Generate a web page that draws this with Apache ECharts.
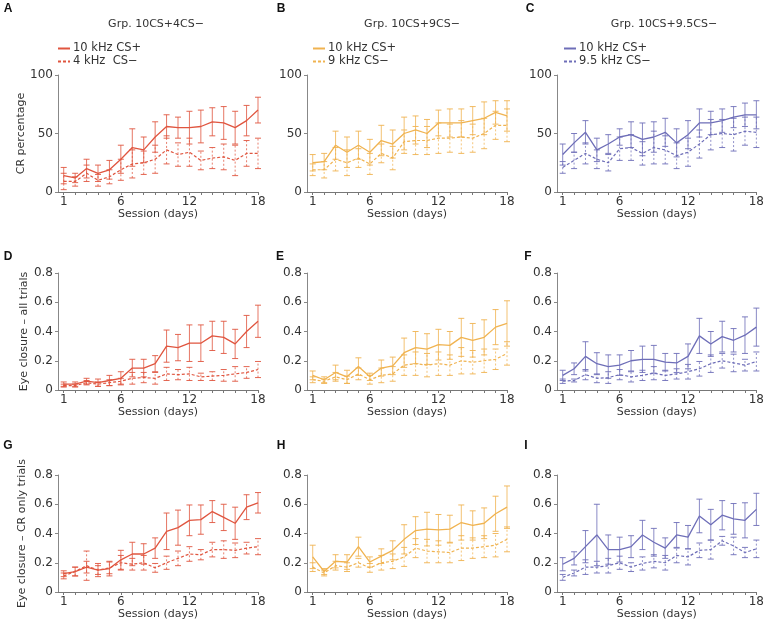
<!DOCTYPE html>
<html>
<head>
<meta charset="utf-8">
<script src="https://cdn.jsdelivr.net/npm/echarts@6/dist/echarts.min.js"></script>
<style>html,body{margin:0;padding:0;background:#fff}#c{width:767px;height:624px}</style>
</head>
<body>
<div id="c"></div>
<script>
const sessions = [1,2,3,4,5,6,7,8,9,10,11,12,13,14,15,16,17,18];
const sessionLabels = [1,6,12,18];

const A_plus = [14,12,20,16,19,28,38,36,47,56,55,55,56,60,59,55,61,70];
const A_plusErr = [7,4,8,7,8,12,16,11,13,10,9,14,14,12,14,14,13,11];
const A_minus = [9,9,16,10,13,19,24,25,28,36,32,34,27,29,30,27,33,33];
const A_minusErr = [7,4,7,5,6,9,12,10,12,12,10,12,8,9,11,13,11,13];

const B_plus = [25,26,40,34,40,34,44,41,50,53,50,59,59,59,61,63,68,65];
const B_plusErr = [7,7,12,13,12,11,13,12,14,12,12,11,12,12,12,14,10,13];
const B_minus = [19,19,28,25,29,24,33,29,43,44,44,46,46,47,46,50,57,57];
const B_minusErr = [5,7,10,11,8,9,8,10,10,12,12,13,12,14,12,13,12,14];

const C_plus = [32,42,51,36,41,47,49,45,47,51,42,49,59,59,61,64,66,66];
const C_plusErr = [9,8,10,10,8,7,11,14,13,12,12,12,12,10,10,9,10,12];
const C_minus = [21,27,33,28,25,37,38,33,38,36,31,34,41,49,50,49,52,51];
const C_minusErr = [5,7,9,8,7,10,11,10,14,12,11,12,12,13,12,14,12,13];

const D_plus = [0.04,0.04,0.06,0.05,0.065,0.08,0.15,0.15,0.18,0.30,0.29,0.32,0.32,0.37,0.36,0.315,0.40,0.47];
const D_plusErr = [0.015,0.015,0.02,0.025,0.035,0.045,0.06,0.06,0.055,0.11,0.09,0.125,0.125,0.10,0.11,0.10,0.11,0.11];
const D_minus = [0.03,0.03,0.05,0.04,0.05,0.06,0.08,0.085,0.08,0.11,0.105,0.11,0.09,0.095,0.10,0.11,0.12,0.14];
const D_minusErr = [0.01,0.01,0.015,0.015,0.02,0.02,0.04,0.035,0.04,0.045,0.035,0.045,0.025,0.03,0.04,0.05,0.04,0.055];

const E_plus = [0.10,0.07,0.12,0.09,0.16,0.09,0.15,0.165,0.255,0.29,0.28,0.31,0.305,0.36,0.34,0.36,0.43,0.455];
const E_plusErr = [0.03,0.02,0.05,0.045,0.06,0.025,0.055,0.06,0.10,0.11,0.105,0.105,0.095,0.13,0.115,0.12,0.12,0.155];
const E_minus = [0.07,0.06,0.09,0.07,0.11,0.07,0.10,0.11,0.17,0.18,0.17,0.18,0.17,0.20,0.19,0.20,0.21,0.25];
const E_minusErr = [0.02,0.015,0.03,0.025,0.04,0.03,0.05,0.05,0.07,0.08,0.08,0.08,0.07,0.09,0.08,0.08,0.07,0.08];

const F_plus = [0.10,0.145,0.23,0.18,0.16,0.17,0.20,0.21,0.21,0.19,0.185,0.23,0.37,0.315,0.365,0.34,0.375,0.43];
const F_plusErr = [0.035,0.04,0.10,0.075,0.08,0.07,0.07,0.09,0.095,0.06,0.065,0.085,0.12,0.085,0.105,0.08,0.125,0.13];
const F_minus = [0.06,0.065,0.105,0.08,0.085,0.105,0.09,0.10,0.115,0.10,0.11,0.125,0.145,0.18,0.20,0.185,0.17,0.195];
const F_minusErr = [0.015,0.01,0.035,0.03,0.04,0.035,0.035,0.035,0.045,0.035,0.035,0.05,0.05,0.06,0.05,0.06,0.04,0.065];

const G_plus = [0.125,0.14,0.17,0.15,0.16,0.22,0.26,0.26,0.30,0.415,0.44,0.49,0.495,0.55,0.51,0.47,0.58,0.61];
const G_plusErr = [0.02,0.03,0.04,0.045,0.05,0.065,0.08,0.07,0.07,0.125,0.12,0.105,0.10,0.075,0.09,0.11,0.085,0.07];
const G_minus = [0.11,0.14,0.18,0.15,0.165,0.20,0.19,0.20,0.165,0.20,0.23,0.26,0.255,0.29,0.29,0.285,0.30,0.31];
const G_minusErr = [0.02,0.03,0.10,0.03,0.04,0.05,0.04,0.05,0.03,0.045,0.05,0.05,0.035,0.05,0.06,0.05,0.04,0.055];

const H_plus = [0.24,0.14,0.21,0.205,0.31,0.205,0.245,0.285,0.36,0.42,0.43,0.425,0.43,0.475,0.455,0.47,0.535,0.58];
const H_plusErr = [0.08,0.02,0.045,0.05,0.065,0.035,0.05,0.065,0.10,0.095,0.115,0.105,0.095,0.12,0.10,0.105,0.12,0.145];
const H_minus = [0.17,0.13,0.18,0.17,0.20,0.165,0.20,0.21,0.24,0.30,0.28,0.275,0.27,0.30,0.30,0.31,0.32,0.36];
const H_minusErr = [0.03,0.02,0.03,0.03,0.03,0.03,0.05,0.05,0.065,0.065,0.08,0.075,0.07,0.085,0.07,0.075,0.08,0.085];

const I_plus = [0.19,0.23,0.31,0.39,0.29,0.29,0.31,0.39,0.34,0.30,0.39,0.375,0.52,0.46,0.525,0.50,0.49,0.565];
const I_plusErr = [0.045,0.045,0.11,0.21,0.10,0.085,0.075,0.10,0.095,0.07,0.085,0.08,0.115,0.105,0.10,0.105,0.12,0.11];
const I_minus = [0.10,0.13,0.17,0.17,0.18,0.20,0.17,0.195,0.21,0.20,0.25,0.24,0.285,0.29,0.35,0.315,0.27,0.295];
const I_minusErr = [0.02,0.02,0.05,0.04,0.05,0.045,0.03,0.045,0.045,0.05,0.05,0.055,0.05,0.065,0.03,0.06,0.035,0.06];

const groupTitles = ['Grp. 10CS+4CS\u2212', 'Grp. 10CS+9CS\u2212', 'Grp. 10CS+9.5CS\u2212'];
const plusNames = ['10 kHz CS+', '10 kHz CS+', '10 kHz CS+'];
const minusNames = ['4 kHz  CS\u2212', '9 kHz CS\u2212', '9.5 kHz CS\u2212'];
const rowNames = ['CR percentage', 'Eye closure \u2013 all trials', 'Eye closure \u2013 CR only trials'];
const letters = ['A','B','C','D','E','F','G','H','I'];

const colors = ['#e0553f', '#f0b350', '#6e6eb8'];
const panelData = [
  [A_plus, A_plusErr, A_minus, A_minusErr],
  [B_plus, B_plusErr, B_minus, B_minusErr],
  [C_plus, C_plusErr, C_minus, C_minusErr],
  [D_plus, D_plusErr, D_minus, D_minusErr],
  [E_plus, E_plusErr, E_minus, E_minusErr],
  [F_plus, F_plusErr, F_minus, F_minusErr],
  [G_plus, G_plusErr, G_minus, G_minusErr],
  [H_plus, H_plusErr, H_minus, H_minusErr],
  [I_plus, I_plusErr, I_minus, I_minusErr]
];

const FONT = 'DejaVu Sans';
const colLeft = [58, 307, 557];
const rowTop = [75, 273, 475];
const gridW = 200, gridH = 117;
const yNameGap = [20, 28, 30];
const letterPos = [[8,9],[281,9],[530,9],[8,257],[280,257],[528,257],[8,446],[281,446],[526,446]];
const titlePos = [[156,24],[412,24],[664,24]];
const legendLeft = [57, 312, 563];

function errRenderer(color, dashed) {
  return function (params, api) {
    const x = api.value(0), lo = api.value(1), hi = api.value(2);
    const p1 = api.coord([x, lo]), p2 = api.coord([x, hi]);
    const w = 3;
    const st = {stroke: color, lineWidth: 1, opacity: dashed ? 0.75 : 0.8, lineDash: dashed ? [2, 2] : null};
    const cap = {stroke: color, lineWidth: 1, opacity: 0.9};
    return {type: 'group', children: [
      {type: 'line', shape: {x1: p1[0], y1: p1[1], x2: p2[0], y2: p2[1]}, style: st},
      {type: 'line', shape: {x1: p2[0]-w, y1: p2[1], x2: p2[0]+w, y2: p2[1]}, style: cap},
      {type: 'line', shape: {x1: p1[0]-w, y1: p1[1], x2: p1[0]+w, y2: p1[1]}, style: cap}
    ]};
  };
}

const grid = [], xAxis = [], yAxis = [], series = [], graphic = [], legend = [];
for (let i = 0; i < 9; i++) {
  const r = Math.floor(i / 3), c = i % 3;
  const color = colors[c];
  grid.push({left: colLeft[c], top: rowTop[r], width: gridW, height: gridH});
  xAxis.push({
    gridIndex: i, type: 'value', min: 0.5, max: 18,
    axisLine: {show: true, onZero: false, lineStyle: {color: '#777', width: 1}},
    axisTick: {show: true, customValues: sessions, length: 3, lineStyle: {color: '#777'}},
    axisLabel: {customValues: sessionLabels, margin: 4, fontSize: 12, color: '#333', fontFamily: FONT},
    splitLine: {show: false},
    name: 'Session (days)', nameLocation: 'middle', nameGap: 16,
    nameTextStyle: {fontSize: 11, color: '#333', fontFamily: FONT}
  });
  const ya = {
    gridIndex: i, type: 'value', min: 0, max: r === 0 ? 100 : 0.8, interval: r === 0 ? 50 : 0.2,
    axisLine: {show: true, lineStyle: {color: '#888', width: 1}},
    axisTick: {show: true, length: 3, lineStyle: {color: '#888'}},
    axisLabel: {margin: 5, fontSize: 12, color: '#333', fontFamily: FONT},
    splitLine: {show: false}
  };
  if (c === 0) {
    ya.name = rowNames[r]; ya.nameLocation = 'middle'; ya.nameGap = yNameGap[r];
    ya.nameTextStyle = {fontSize: 11, color: '#333', fontFamily: FONT};
  }
  yAxis.push(ya);
  const [mp, ep, mm, em] = panelData[i];
  const pName = letters[i] + '|' + plusNames[c];
  const mName = letters[i] + '|' + minusNames[c];
  series.push({
    type: 'custom', xAxisIndex: i, yAxisIndex: i, silent: true, z: 1,
    data: sessions.map((s, k) => [s, mm[k] - em[k], mm[k] + em[k]]),
    encode: {x: 0, y: [1, 2]}, renderItem: errRenderer(color, true)
  });
  series.push({
    type: 'custom', xAxisIndex: i, yAxisIndex: i, silent: true, z: 1,
    data: sessions.map((s, k) => [s, mp[k] - ep[k], mp[k] + ep[k]]),
    encode: {x: 0, y: [1, 2]}, renderItem: errRenderer(color, false)
  });
  series.push({
    type: 'line', name: mName, xAxisIndex: i, yAxisIndex: i, z: 2,
    data: sessions.map((s, k) => [s, mm[k]]), symbol: 'none',
    lineStyle: {color: color, width: 1.2, type: [3, 2]}, itemStyle: {color: color}
  });
  series.push({
    type: 'line', name: pName, xAxisIndex: i, yAxisIndex: i, z: 3,
    data: sessions.map((s, k) => [s, mp[k]]), symbol: 'none',
    lineStyle: {color: color, width: 1.3}, itemStyle: {color: color}
  });
  graphic.push({type: 'text', x: letterPos[i][0], y: letterPos[i][1],
    style: {text: letters[i], fontSize: 12, fontWeight: 'bold', fontFamily: 'Liberation Sans', fill: '#111', align: 'center', verticalAlign: 'middle'}});
  if (r === 0) {
    graphic.push({type: 'text', x: titlePos[c][0], y: titlePos[c][1],
      style: {text: groupTitles[c], fontSize: 11, fontFamily: FONT, fill: '#333', align: 'center', verticalAlign: 'middle'}});
    legend.push({
      data: [pName, mName], orient: 'vertical', left: legendLeft[c], top: 42, padding: 0,
      itemWidth: 12, itemHeight: 10, itemGap: 0, selectedMode: false,
      itemStyle: {opacity: 0, borderWidth: 0},
      formatter: n => n.split('|')[1],
      textStyle: {fontSize: 11.5, lineHeight: 13, color: '#333', fontFamily: FONT, padding: [0, 0, 0, -2]}
    });
  }
}

const chart = echarts.init(document.getElementById('c'), null, {renderer: 'canvas'});
chart.setOption({
  animation: false,
  backgroundColor: '#fff',
  grid, xAxis, yAxis, series, graphic, legend
});
</script>
</body>
</html>
